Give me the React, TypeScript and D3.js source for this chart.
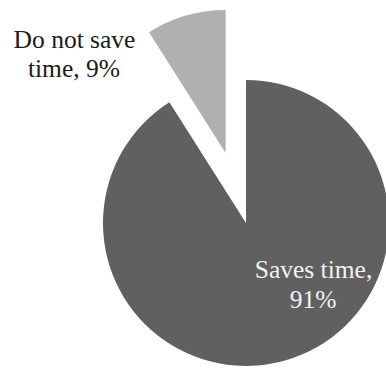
import React from "react";
import * as d3 from "d3";

const categories = ["Saves time", "Do not save time"];
const values = [91, 9];
const colors = ["#606060", "#b0b0b0"];

const W = 386;
const H = 370;
const cx = 246;
const cy = 223;
const R = 143;
const explode = 73;

export default function App() {
  const pie = d3
    .pie<number>()
    .sort(null)
    .value((d) => d);
  const arcs = pie(values);
  const arcGen = d3.arc<d3.PieArcDatum<number>>().innerRadius(0).outerRadius(R);

  const font: React.CSSProperties = {
    fontFamily: '"Liberation Serif", "DejaVu Serif", serif',
    fontSize: "25.5px",
  };

  return (
    <div style={{ position: "fixed", left: 0, top: 0 }}>
      <svg width={W} height={H} style={{ display: "block", background: "#fff" }}>
        {arcs.map((a, i) => {
          const mid = (a.startAngle + a.endAngle) / 2;
          const off = i === 1 ? explode : 0;
          const dx = Math.sin(mid) * off;
          const dy = -Math.cos(mid) * off;
          return (
            <path
              key={categories[i]}
              d={arcGen(a) || ""}
              transform={`translate(${cx + dx},${cy + dy})`}
              fill={colors[i]}
            />
          );
        })}
        <g style={font} textAnchor="middle">
          <text x={74.5} y={48} fill="#1a1a1a">Do not save</text>
          <text x={74} y={77} fill="#1a1a1a">{`time, ${values[1]}%`}</text>
          <text x={313.5} y={278} fill="#f2f2f2">Saves time,</text>
          <text x={313} y={308} fill="#f2f2f2">{`${values[0]}%`}</text>
        </g>
      </svg>
    </div>
  );
}
